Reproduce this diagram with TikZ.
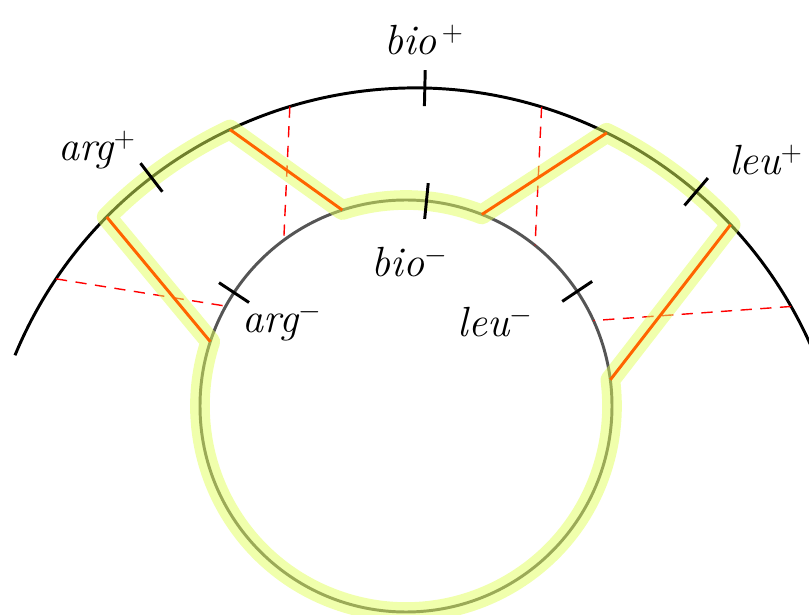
\documentclass[tikz,border=0pt]{standalone}
\usepackage{tikz}
\usepackage{xcolor}
\usetikzlibrary{calc}
\definecolor{innergray}{RGB}{85,85,85}
\definecolor{linkorange}{RGB}{255,100,0}
\definecolor{glowyellow}{RGB}{225,255,90}

\begin{document}
\begin{tikzpicture}[x=0.025cm, y=0.025cm,
		outer/.style={line width=2.1pt, draw=black},
		inner/.style={line width=2.1pt, draw=innergray},
		link/.style={line width=2.1pt, draw=linkorange},
		glow/.style={line width=14pt, draw=glowyellow, opacity=0.5, line join=round, line cap=round},
		guide/.style={draw=red, line width=1pt, dash pattern=on 8pt off 6pt},
		tick/.style={line width=2.1pt, draw=black},
		lbl/.style={font=\fontsize{30}{32}\selectfont\itshape, inner sep=0pt}
	]
		\useasboundingbox (0,0) rectangle (809,-615);
		\def\R{433}
		\def\r{206}
		\coordinate (O) at (415,-521);
		\coordinate (C) at (406,-406);

		% end points on both circles
		\foreach \n/\a in {a1/135.4, a2/115.3, a3/63.7, a4/43.2, g1/146, g2/106.8, g3/73, g4/29.7}
			\path (O) ++(\a:\R) coordinate (\n);
		\foreach \n/\a in {b1/161.8, b2/108, b3/68.4, b4/7.3, h1/151, h2/126.4, h3/51.2, h4/24.5}
			\path (C) ++(\a:\r) coordinate (\n);

		\draw[outer] (O) ++(157.5:\R) arc[start angle=157.5, end angle=23.3, radius=\R];
		\draw[inner] (C) circle[radius=\r];

		\foreach \a/\b in {g1/h1, g2/h2, g3/h3, g4/h4}
			\draw[guide] (\a) -- (\b);

		\draw[glow] (a2) arc[start angle=115.3, end angle=135.4, radius=\R] -- (b1)
			arc[start angle=161.8, end angle=367.3, radius=\r] -- (a4)
			arc[start angle=43.2, end angle=63.7, radius=\R] -- (b3)
			arc[start angle=68.4, end angle=108, radius=\r] -- cycle;

		\foreach \a/\b in {a1/b1, a2/b2, a3/b3, a4/b4}
			\draw[link] (\a) -- (\b);

		\foreach \a in {127.5, 88.7, 49.5}
			\draw[tick] (O) ++(\a:415) -- ++(\a:36);
		\foreach \a in {146.6, 84.3, 33.8}
			\draw[tick] (C) ++(\a:188) -- ++(\a:36);

		\node[lbl] (bioplus) at (424,-40) {bio$^{\,+}$};
		\node[lbl] (argplus) at (97,-150) {arg$^{+}$};
		\node[lbl] (leuplus) at (766,-160) {leu$^{+}$};
		\node[lbl] (biominus) at (410,-262) {bio$^{-}$};
		\node[lbl] (argminus) at (282,-322) {arg$^{-}$};
		\node[lbl] (leuminus) at (495,-322) {leu$^{-}$};
	\end{tikzpicture}
\end{document}
